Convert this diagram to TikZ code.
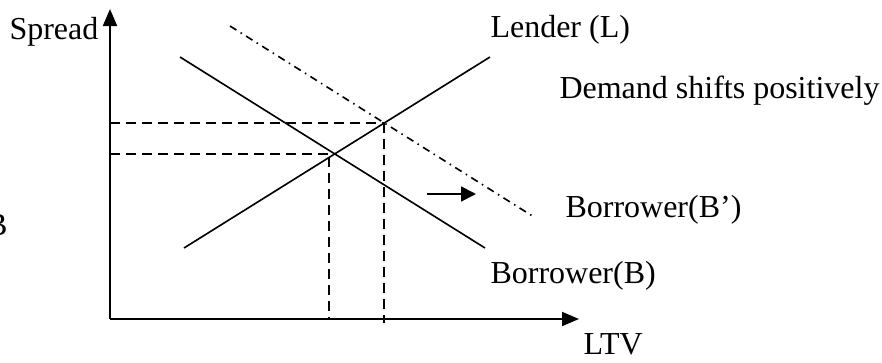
\documentclass[tikz,border=0pt]{standalone}
\usepackage{fontspec}
\setmainfont{Liberation Serif}
\usetikzlibrary{arrows.meta}
\tikzset{
  axisline/.style={line width=0.8pt,-{Triangle[length=6.8pt,width=5.6pt]}},
  curveline/.style={line width=0.65pt},
  shiftline/.style={line width=0.65pt,dash pattern=on 3pt off 2pt on 0.6pt off 2pt},
  guideline/.style={line width=0.6pt,dash pattern=on 4pt off 2.4pt},
  lbl/.style={inner sep=0pt,anchor=base west,font=\fontsize{12.8pt}{15pt}\selectfont}
}
\begin{document}
\begin{tikzpicture}[x=0.4pt,y=0.4pt]
      \useasboundingbox (0,0) rectangle (882,362);
      % axes
      \coordinate (O) at (110,43);
      \coordinate (ytop) at (110,353);
      \coordinate (xend) at (579,43);
      \draw[axisline] (O) -- (ytop);
      \draw[axisline] (O) -- (xend);
      % supply and demand lines
      \coordinate (L1) at (184,114);
      \coordinate (L2) at (490,305);
      \coordinate (B1) at (180,305);
      \coordinate (B2) at (485,114);
      \coordinate (Bs1) at (230,336);
      \coordinate (Bs2) at (534,145);
      \draw[curveline] (L1) -- (L2);
      \draw[curveline] (B1) -- (B2);
      \draw[shiftline] (Bs1) -- (Bs2);
      % equilibria
      \coordinate (E1) at (335,208);
      \coordinate (E2) at (384,239);
      \draw[guideline] (110,208) -- (E1);
      \draw[guideline] (329,205) -- (329,43);
      \draw[guideline] (110,239) -- (E2);
      \draw[guideline] (E2) -- (384,39);
      % shift arrow
      \coordinate (sa) at (427,168);
      \coordinate (sb) at (476,168);
      \draw[line width=0.7pt,-{Triangle[length=6pt,width=6pt]}] (sa) -- (sb);
      % labels
      \node[lbl] (spread) at (9,323) {Spread};
      \node[lbl] (lender) at (490,325) {Lender (L)};
      \node[lbl] (shift) at (559,264) {Demand shifts positively};
      \node[lbl] (bprime) at (565,145) {Borrower(B’)};
      \node[lbl] (borrow) at (490,79) {Borrower(B)};
      \node[lbl] (ltv) at (583,8) {LTV};
      \node[lbl,anchor=base east] (cut) at (8,127) {B};
\end{tikzpicture}
\end{document}
